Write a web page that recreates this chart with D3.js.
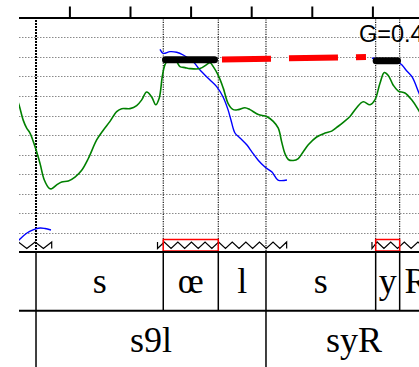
<!DOCTYPE html>
<html><head><meta charset="utf-8">
<script src="https://cdn.jsdelivr.net/npm/d3@7"></script>
<style>body{margin:0;background:#fff}svg{display:block}</style>
</head><body>
<svg id="c" width="419" height="367"></svg>
<script>
// time in ms, pitch in semitones
const ticksMs = [100, 200, 300, 400, 500, 600];
const gridST = [80, 82, 84, 86, 88, 90, 92, 94, 96, 98, 100];
const phoneLabels = ['a', 's', 'œ', 'l', 's', 'y', 'R'];
const phoneBounds = [-40, 44.9, 254.9, 345.7, 424.4, 605.4, 645.0, 700.4];
const sylLabels = ['s9l', 'syR'];
const sylBounds = [44.9, 424.4, 714.8];
const greenPitch = [
 [10,94.3],[16.8,93.1],[23.9,91.5],[29.5,90.7],[35.0,90.2],[44.9,88.5],[51.5,87.1],[58.6,85.4],[66.8,84.55],[70.8,84.5],
 [79.0,84.9],[87.3,85.2],[98.2,85.3],[109.2,85.7],[120.3,86.4],[131.2,87.6],[145.0,89.5],[155.9,90.5],[167.0,91.4],
 [178.0,92.4],[186.3,92.7],[200.0,92.7],[211.0,93.0],[219.3,93.6],[227.5,94.4],[235.8,93.9],[242.4,93.1],[248.3,93.8],
 [253.3,96.0],[257.7,97.2],[262.7,97.7],[269.3,97.8],[277.0,97.5],[282.5,97.0],[290.7,96.9],[299.0,96.8],[315.5,96.8],
 [326.5,97.2],[332.0,97.4],[337.4,97.0],[345.7,96.1],[353.9,94.8],[362.2,93.2],[370.4,92.6],[378.7,92.6],[389.7,92.8],
 [398.0,92.6],[411.7,92.1],[425.5,91.9],[436.4,91.4],[444.7,90.7],[450.3,89.3],[455.7,88.1],[461.2,87.5],[469.4,87.4],
 [477.7,87.6],[485.9,88.3],[494.2,89.0],[508.0,89.8],[521.7,90.2],[532.8,90.4],[543.7,90.9],[551.9,91.3],[563.0,91.9],
 [574.0,92.8],[584.9,93.4],[596.0,93.1],[604.2,93.6],[612.5,95.3],[619.6,96.4],[626.2,96.1],[634.4,95.1],[642.7,94.5],
 [653.7,94.3],[664.8,93.6],[675.7,92.6],[681.7,91.9]
];
const bluePitch1 = [[8,78.6],[16.8,79.26],[30.0,79.98],[39.9,80.29],[51.5,80.49],[59.7,80.44],[69.6,80.29]];
const bluePitch2 = [
 [249.5,98.77],[254.9,98.36],[266.0,98.53],[277.0,98.47],[287.9,98.19],[304.4,97.5],[315.5,96.65],[332.0,95.63],
 [343.0,94.95],[353.4,93.92],[361.7,92.6],[366.6,91.54],[373.2,90.21],[381.5,89.7],[393.0,88.98],[401.3,88.26],
 [411.2,87.45],[422.7,86.73],[434.3,86.21],[444.2,85.4],[459.0,85.4]
];
const bluePitch3 = [[599.2,97.85],[605.9,97.83],[645.5,97.34],[655.4,96.65],[665.3,95.97],[676.8,94.3],[681.8,93.6]];
const levelStart = [258.6, 606.2];
const levelEnd = [339.4, 641.4];
const levelST = [97.71, 97.6];
const glideT = [351.8, 589.4];
const glideST = [97.73, 97.98];
const nucleusStart = [254.9, 605.4];
const nucleusEnd = [345.7, 645.0];
const zigStart = [-20, 245.4, 599.3];
const zigEnd = [70.8, 458.5, 720];
const label = 'G=0.4';

const x = d3.scaleLinear().domain([0, 700]).range([8.8, 433.0]);
const y = d3.scaleLinear().domain([80, 100]).range([232.8, 37.3]);

const svg = d3.select('#c');
svg.append('defs').append('clipPath').attr('id', 'clip')
  .append('rect').attr('x', 19).attr('y', 0).attr('width', 400).attr('height', 367);
const g = svg.append('g').attr('clip-path', 'url(#clip)');

// grid
g.selectAll('line.grid').data(gridST).join('line').attr('class', 'grid')
  .attr('x1', 19).attr('x2', 419)
  .attr('y1', d => Math.round(y(d)) + 0.5).attr('y2', d => Math.round(y(d)) + 0.5)
  .attr('stroke', '#8a8a8a').attr('stroke-width', 1).attr('stroke-dasharray', '1.5,1.5');

// vertical dotted boundaries
g.selectAll('line.vb').data(phoneBounds).join('line').attr('class', 'vb')
  .attr('x1', d => x(d)).attr('x2', d => x(d)).attr('y1', 17).attr('y2', 252)
  .attr('stroke', '#000').attr('stroke-width', (d, i) => i === 1 ? 2 : 1.1)
  .attr('stroke-dasharray', (d, i) => i === 1 ? '2,1' : '1.2,1.2');

const line = d3.line().x(d => x(d[0])).y(d => y(d[1])).curve(d3.curveCatmullRom.alpha(0.5));
[bluePitch1, bluePitch2, bluePitch3].forEach(s => {
  g.append('path').attr('d', line(s)).attr('fill', 'none').attr('stroke', '#0000ff').attr('stroke-width', 1.4);
});
g.append('path').attr('d', line(greenPitch)).attr('fill', 'none').attr('stroke', '#008000').attr('stroke-width', 1.6);

// red glide
g.append('line').attr('x1', x(glideT[0])).attr('x2', x(glideT[1]))
  .attr('y1', y(glideST[0])).attr('y2', y(glideST[1]))
  .attr('stroke', '#ff0000').attr('stroke-width', 6).attr('stroke-dasharray', '49,18');

// black levels
g.selectAll('line.lvl').data(levelST).join('line').attr('class', 'lvl')
  .attr('x1', (d, i) => x(levelStart[i])).attr('x2', (d, i) => x(levelEnd[i]))
  .attr('y1', d => y(d)).attr('y2', d => y(d))
  .attr('stroke', '#000').attr('stroke-width', 7).attr('stroke-linecap', 'round');

// zigzags
const zTop = 242, zBot = 248.5;
zigStart.forEach((s, i) => {
  const half = i === 0 ? 8.3 : 6.8;
  const x0 = x(s), x1 = x(zigEnd[i]);
  const pts = [[x1, zBot], [x1, zTop]];
  let k = 1, cx = x1 - half;
  while (cx > x0) { pts.push([cx, k % 2 ? zBot : zTop]); k++; cx -= half; }
  pts.push([x0, k % 2 ? zBot : zTop]);
  pts.push([x0, k % 2 ? zTop : zBot]);
  g.append('path').attr('d', d3.line()(pts)).attr('fill', 'none').attr('stroke', '#000').attr('stroke-width', 1.2);
});
// nucleus boxes
g.selectAll('rect.nuc').data(nucleusStart).join('rect').attr('class', 'nuc')
  .attr('x', d => x(d)).attr('width', (d, i) => x(nucleusEnd[i]) - x(d))
  .attr('y', 239.5).attr('height', 11.5)
  .attr('fill', 'none').attr('stroke', '#ff0000').attr('stroke-width', 1.5);

// tiers
[252, 310.7].forEach(yy => g.append('line').attr('x1', 19).attr('x2', 419).attr('y1', yy).attr('y2', yy)
  .attr('stroke', '#000').attr('stroke-width', 2));
g.selectAll('line.pb').data(phoneBounds).join('line').attr('class', 'pb')
  .attr('x1', d => x(d)).attr('x2', d => x(d)).attr('y1', 252).attr('y2', 310.7)
  .attr('stroke', '#000').attr('stroke-width', 1.5);
g.selectAll('line.sb').data(sylBounds).join('line').attr('class', 'sb')
  .attr('x1', d => x(d)).attr('x2', d => x(d)).attr('y1', 310.7).attr('y2', 367)
  .attr('stroke', '#000').attr('stroke-width', 1.5);
g.selectAll('text.ph').data(phoneLabels).join('text').attr('class', 'ph')
  .attr('x', (d, i) => (x(phoneBounds[i]) + x(phoneBounds[i + 1])) / 2).attr('y', 293)
  .attr('text-anchor', 'middle').attr('font-family', 'Liberation Serif, Times New Roman, serif')
  .attr('font-size', 36).text(d => d);
g.selectAll('text.sy').data(sylLabels).join('text').attr('class', 'sy')
  .attr('x', (d, i) => (x(sylBounds[i]) + x(sylBounds[i + 1])) / 2).attr('y', 351.5)
  .attr('text-anchor', 'middle').attr('font-family', 'Liberation Serif, Times New Roman, serif')
  .attr('font-size', 36).text(d => d);

// top axis
const ax = g.append('g').attr('transform', 'translate(0,17.5)')
  .call(d3.axisTop(x).tickValues(ticksMs).tickSize(11).tickSizeOuter(0).tickFormat(() => ''));
ax.selectAll('path,line').attr('stroke', '#000').attr('stroke-width', 2);

g.append('text').attr('x', 359).attr('y', 42).attr('font-family', 'Liberation Sans, Arial, sans-serif')
  .attr('font-size', 23.5).attr('fill', '#000').text(label);
</script>
</body></html>
